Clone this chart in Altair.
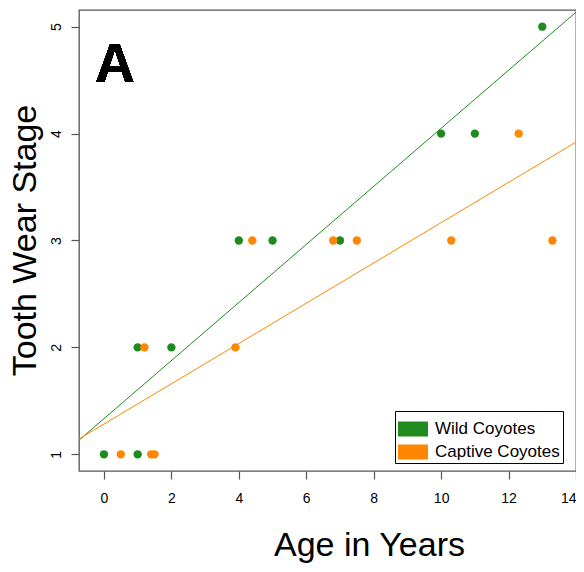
import altair as alt
import pandas as pd

# Data
wild_age = [0, 1, 1, 2, 4, 5, 7, 10, 11, 13]
wild_stage = [1, 1, 2, 2, 3, 3, 3, 4, 4, 5]
captive_age = [0.5, 1.4, 1.5, 1.2, 3.9, 4.4, 6.8, 7.5, 10.3, 13.3, 12.3]
captive_stage = [1, 1, 1, 2, 2, 3, 3, 3, 3, 3, 4]
groups = ["Wild Coyotes", "Captive Coyotes"]
x_ticks = [0, 2, 4, 6, 8, 10, 12, 14]
y_ticks = [1, 2, 3, 4, 5]

df = pd.DataFrame({
    "age": wild_age + captive_age,
    "stage": wild_stage + captive_stage,
    "group": [groups[0]] * len(wild_age) + [groups[1]] * len(captive_age),
})

X_DOM = [-0.74, 14.0]
Y_DOM = [0.844, 5.156]
FONT = "Liberation Sans"

color_scale = alt.Scale(domain=groups, range=["#1f8b1f", "#ff8700"])

x_enc = alt.X(
    "age:Q",
    scale=alt.Scale(domain=X_DOM, nice=False, zero=False),
    axis=alt.Axis(
        values=x_ticks, format="d", grid=False, domain=False, tickColor="#555555",
        tickSize=8, tickWidth=1.2, labelFontSize=14, labelPadding=12,
        labelColor="black", title="Age in Years", titleFontSize=34,
        titleFontWeight="normal", titleX=290, titleY=84,
        titleBaseline="alphabetic", titleAlign="center", titleColor="black",
    ),
)
y_enc = alt.Y(
    "stage:Q",
    scale=alt.Scale(domain=Y_DOM, nice=False, zero=False),
    axis=alt.Axis(
        values=y_ticks, format="d", grid=False, domain=False, tickColor="#555555",
        tickSize=8, tickWidth=1.2, labelFontSize=14, labelPadding=11,
        labelAngle=270, labelAlign="center", labelBaseline="alphabetic",
        labelColor="black", title="Tooth Wear Stage", titleFontSize=34,
        titleFontWeight="normal", titleAngle=270, titleX=-44, titleY=230,
        titleBaseline="alphabetic", titleAlign="center", titleColor="black",
    ),
)

legend = alt.Legend(
    title=None, orient="none", legendX=316, legendY=401,
    symbolType="M-1,-0.5H1V0.5H-1Z", symbolSize=900, symbolStrokeWidth=0,
    symbolOpacity=1, labelFontSize=17, labelOffset=7, labelColor="black",
    strokeColor="black", fillColor="white", padding=3, rowPadding=-2,
)

points = alt.Chart(df).mark_circle(size=70, opacity=1).encode(
    x=x_enc, y=y_enc,
    color=alt.Color("group:N", scale=color_scale, legend=legend),
)

lines = alt.Chart(df).transform_regression(
    "age", "stage", groupby=["group"], extent=X_DOM
).mark_line(strokeWidth=1, clip=True).encode(
    x=alt.X("age:Q"), y=alt.Y("stage:Q"),
    color=alt.Color("group:N", scale=color_scale, legend=legend),
)

label = alt.Chart(df).mark_text(
    fontSize=55, fontWeight="bold", align="left", baseline="alphabetic",
    color="black", font=FONT,
).encode(x=alt.value(16), y=alt.value(72), text=alt.value("A"))

chart = alt.layer(lines, points, label).properties(
    width=497, height=461,
    autosize=alt.AutoSizeParams(type="none"),
    padding={"left": 71, "top": 2, "right": 0, "bottom": 93},
).configure(font=FONT).configure_view(
    stroke="#555555", strokeWidth=1.3
)

chart.save("out.html", embed_options={"renderer": "svg", "actions": False})
